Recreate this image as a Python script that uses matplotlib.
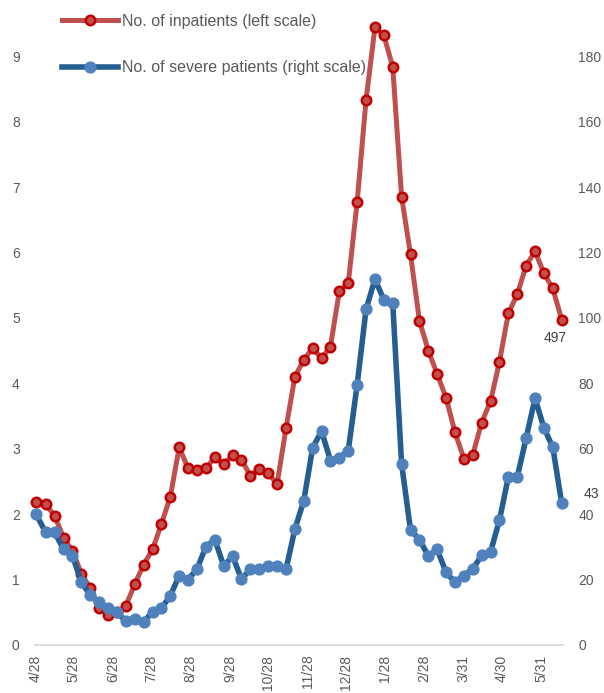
import matplotlib.pyplot as plt
import pandas as pd

plt.rcParams['font.family'] = ['Liberation Sans', 'DejaVu Sans']

# weekly reporting dates
dates = ["2020-04-28", "2020-05-06", "2020-05-13", "2020-05-20", "2020-05-27",
         "2020-06-03", "2020-06-10", "2020-06-17", "2020-06-24", "2020-07-01",
         "2020-07-08", "2020-07-15", "2020-07-22", "2020-07-29", "2020-08-05",
         "2020-08-12", "2020-08-19", "2020-08-26", "2020-09-02", "2020-09-09",
         "2020-09-16", "2020-09-23", "2020-09-30", "2020-10-07", "2020-10-14",
         "2020-10-21", "2020-10-28", "2020-11-04", "2020-11-11", "2020-11-18",
         "2020-11-25", "2020-12-02", "2020-12-09", "2020-12-16", "2020-12-23",
         "2020-12-30", "2021-01-06", "2021-01-13", "2021-01-20", "2021-01-27",
         "2021-02-03", "2021-02-10", "2021-02-17", "2021-02-24", "2021-03-03",
         "2021-03-10", "2021-03-17", "2021-03-24", "2021-03-31", "2021-04-07",
         "2021-04-14", "2021-04-21", "2021-04-28", "2021-05-05", "2021-05-12",
         "2021-05-19", "2021-05-26", "2021-06-02", "2021-06-09", "2021-06-16"]

# left scale
inpatients = [2.19, 2.15, 1.97, 1.64, 1.44, 1.09, 0.87, 0.56, 0.46, 0.50,
              0.60, 0.93, 1.23, 1.46, 1.85, 2.27, 3.02, 2.70, 2.67, 2.70,
              2.87, 2.76, 2.90, 2.83, 2.59, 2.69, 2.63, 2.46, 3.31, 4.10,
              4.36, 4.54, 4.38, 4.56, 5.41, 5.53, 6.77, 8.33, 9.44, 9.32,
              8.84, 6.85, 5.97, 4.96, 4.50, 4.14, 3.78, 3.25, 2.85, 2.91,
              3.40, 3.73, 4.33, 5.07, 5.36, 5.80, 6.02, 5.68, 5.45, 4.97]

# right scale
severe = [40.2, 34.4, 34.4, 29.2, 27.3, 19.2, 15.2, 13.0, 11.2, 10.1,
          7.2, 8.1, 7.1, 10.1, 11.2, 15.1, 21.2, 20.0, 23.2, 30.1,
          32.2, 24.2, 27.1, 20.2, 23.1, 23.1, 24.1, 24.1, 23.1, 35.4,
          44.1, 60.3, 65.4, 56.4, 57.3, 59.4, 79.5, 102.6, 111.8, 105.6,
          104.6, 55.3, 35.2, 32.2, 27.3, 29.2, 22.2, 19.2, 21.2, 23.3,
          27.4, 28.4, 38.2, 51.4, 51.3, 63.3, 75.4, 66.4, 60.4, 43.3]

tick_dates = ["2020-04-28", "2020-05-28", "2020-06-28", "2020-07-28", "2020-08-28",
              "2020-09-28", "2020-10-28", "2020-11-28", "2020-12-28", "2021-01-28",
              "2021-02-28", "2021-03-31", "2021-04-30", "2021-05-31"]
tick_labels = ["4/28", "5/28", "6/28", "7/28", "8/28", "9/28", "10/28", "11/28",
               "12/28", "1/28", "2/28", "3/31", "4/30", "5/31"]

x = pd.to_datetime(dates)

fig = plt.figure(figsize=(6.04, 6.93), dpi=100)
ax = fig.add_axes([35/604, 48/693, 528/604, 628/693])
ax2 = ax.twinx()

l1, = ax.plot(x, inpatients, color='#C0504D', lw=3.6, marker='o', ms=6.8,
              mfc='#C0504D', mec='#C00000', mew=1.8, solid_joinstyle='round',
              clip_on=False, label='No. of inpatients (left scale)')
l2, = ax2.plot(x, severe, color='#255E91', lw=4, marker='o', ms=7.8,
               mfc='#4F81BD', mec='#4F81BD', solid_joinstyle='round',
               clip_on=False, label='No. of severe patients (right scale)')

ax.set_ylim(0, 9.6)
ax2.set_ylim(0, 192)
ax.set_yticks(range(0, 10))
ax2.set_yticks(range(0, 181, 20))
ax.set_xlim(x[0] - pd.Timedelta(days=0.5), x[-1] + pd.Timedelta(days=1))
ax.set_xticks(pd.to_datetime(tick_dates))
ax.set_xticklabels(tick_labels, rotation=90)

for a in (ax, ax2):
    for s in a.spines.values():
        s.set_visible(False)
    a.tick_params(length=0, labelsize=10, labelcolor='#595959')
ax.spines['bottom'].set_visible(True)
ax.spines['bottom'].set_color('#D9D9D9')
ax.spines['bottom'].set_linewidth(1.3)
ax.tick_params(axis='y', pad=11)
ax2.tick_params(axis='y', pad=11)
ax.tick_params(axis='x', pad=7)

ax.annotate('497', (x[-1], inpatients[-1]), xytext=(-5, -13), textcoords='offset points',
            ha='center', va='center', fontsize=10, color='#404040')
ax2.annotate('43', (x[-1], severe[-1]), xytext=(21, 7), textcoords='offset points',
             ha='center', va='center', fontsize=10, color='#404040')

fig.legend([l1, l2], [l1.get_label(), l2.get_label()], loc='upper left',
           bbox_to_anchor=(62/604, 1 - 14/693), frameon=False, borderpad=0,
           borderaxespad=0, handlelength=3.5, handletextpad=0.25, labelspacing=1.95,
           fontsize=11.5, labelcolor='#595959')

plt.savefig('out.png', dpi=100)
